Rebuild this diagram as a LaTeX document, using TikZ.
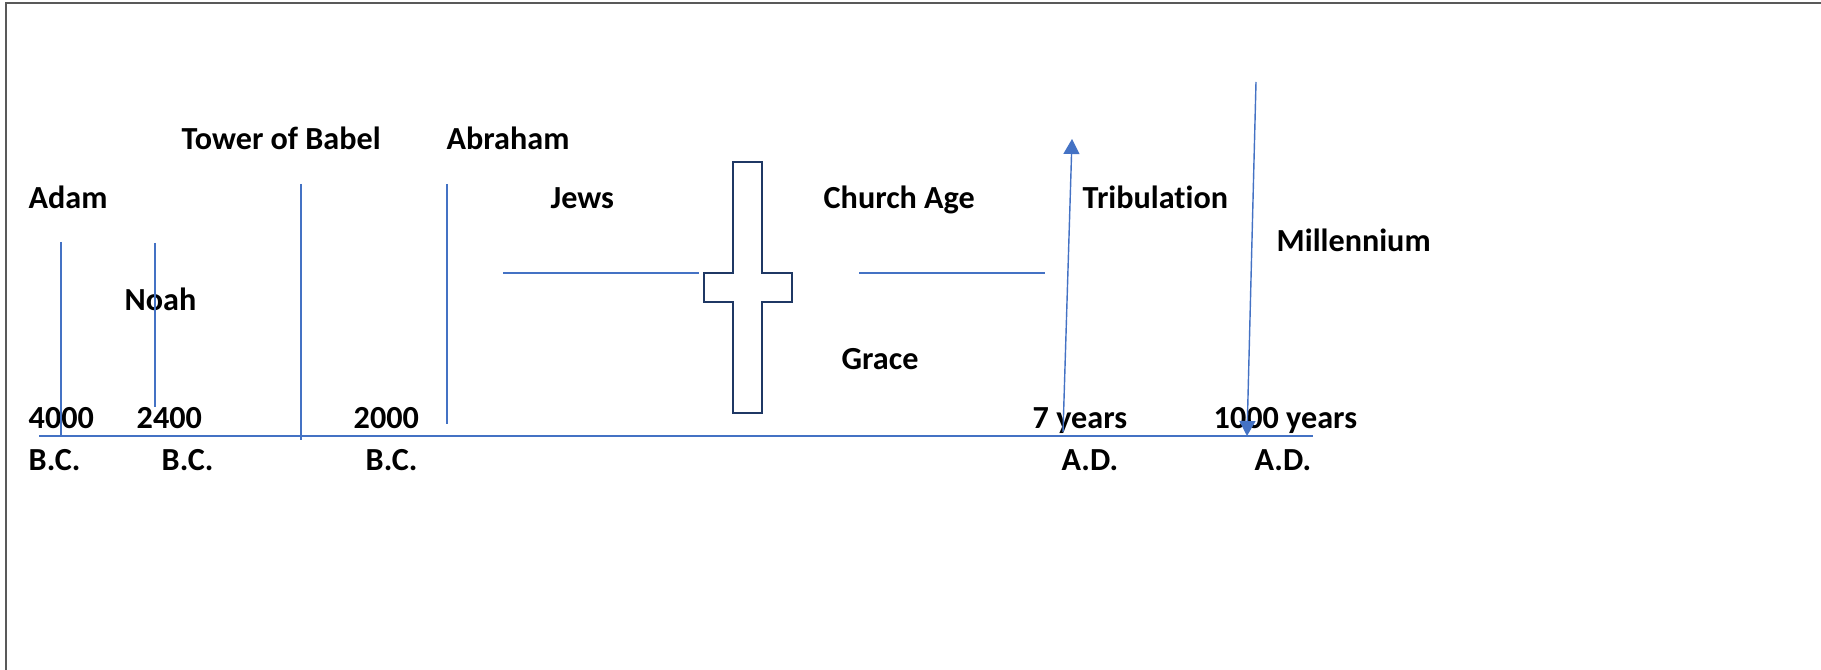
\documentclass[tikz,border=0pt]{standalone}
\usepackage{fontspec}
\setmainfont{Carlito}[Ligatures=NoCommon]
\usetikzlibrary{arrows.meta}
\definecolor{lineblue}{HTML}{4472C4}
\definecolor{crossnavy}{HTML}{1F3864}
\definecolor{framegray}{HTML}{595959}
\begin{document}
\begin{tikzpicture}[x=0.01cm,y=-0.01cm,
  lbl/.style={anchor=base west,inner sep=0pt,yshift=-0.015cm,font=\fontsize{9.15}{11}\selectfont\bfseries},
  bline/.style={draw=lineblue,line width=0.4pt},
  arr/.style={bline,-{Triangle[width=0.16cm,length=0.15cm]},fill=lineblue}]
\useasboundingbox (0,0) rectangle (1821,670);
% frame
\coordinate (fbl) at (6,670);
\coordinate (ftl) at (6,3);
\coordinate (ftr) at (1821,3);
\draw[framegray,line width=0.6pt] (fbl) -- (ftl) -- (ftr);
% labels
\node[lbl] (babel) at (181,148) {Tower of Babel};
\node[lbl] (abraham) at (446,148) {Abraham};
\node[lbl] (adam) at (28,207) {Adam};
\node[lbl] (jews) at (550,207) {Jews};
\node[lbl] (church) at (823,207) {Church Age};
\node[lbl] (trib) at (1082,207) {Tribulation};
\node[lbl] (mill) at (1276,250) {Millennium};
\node[lbl] (noah) at (124,309) {Noah};
\node[lbl] (grace) at (841,368) {Grace};
\node[lbl] (y4000) at (28,427) {4000};
\node[lbl] (y2400) at (136,427) {2400};
\node[lbl] (y2000) at (353,427) {2000};
\node[lbl] (seven) at (1032,427) {7 years};
\node[lbl] (thousand) at (1213,427) {1000 years};
\node[lbl] (bc1) at (28,469) {B.C.};
\node[lbl] (bc2) at (161,469) {B.C.};
\node[lbl] (bc3) at (365,469) {B.C.};
\node[lbl] (ad1) at (1061,469) {A.D.};
\node[lbl] (ad2) at (1254,469) {A.D.};
% axis
\coordinate (axL) at (39,436);
\coordinate (axR) at (1313,436);
\draw[bline] (axL) -- (axR);
% vertical markers
\coordinate (adamT) at (61,242);  \coordinate (adamB) at (61,436);
\coordinate (noahT) at (155,243); \coordinate (noahB) at (155,407);
\coordinate (babelT) at (301,184); \coordinate (babelB) at (301,440);
\coordinate (abrT) at (447,184);  \coordinate (abrB) at (447,424);
\draw[bline] (adamT) -- (adamB);
\draw[bline] (noahT) -- (noahB);
\draw[bline] (babelT) -- (babelB);
\draw[bline] (abrT) -- (abrB);
% horizontal period lines
\coordinate (jewsL) at (503,273); \coordinate (jewsR) at (699,273);
\coordinate (chL) at (859,273);   \coordinate (chR) at (1045,273);
\draw[bline] (jewsL) -- (jewsR);
\draw[bline] (chL) -- (chR);
% cross
\draw[crossnavy,line width=0.65pt,fill=white]
  (733,162) -- (762,162) -- (762,273) -- (792,273) -- (792,302) -- (762,302)
  -- (762,413) -- (733,413) -- (733,302) -- (704,302) -- (704,273) -- (733,273) -- cycle;
% arrows
\coordinate (tribS) at (1063,432); \coordinate (tribE) at (1072,139);
\coordinate (millS) at (1256,82);  \coordinate (millE) at (1247,436);
\draw[arr] (tribS) -- (tribE);
\draw[arr] (millS) -- (millE);
\end{tikzpicture}
\end{document}
